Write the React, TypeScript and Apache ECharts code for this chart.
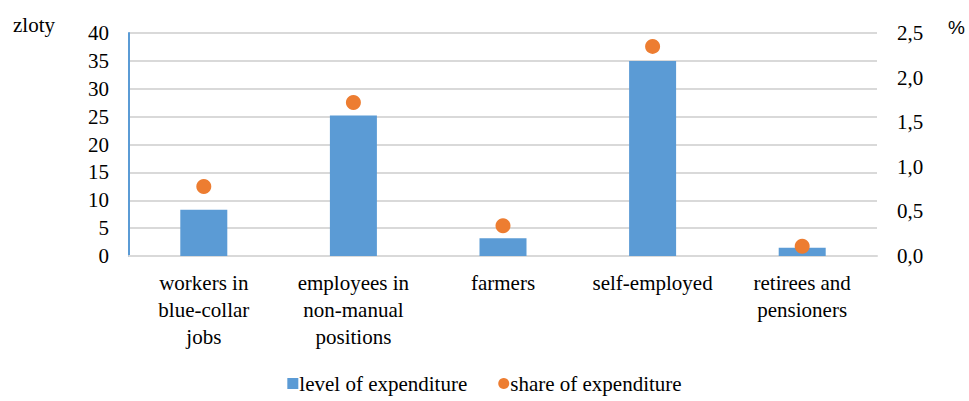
import React, { useEffect, useRef } from "react";
import * as echarts from "echarts";

const categories = [
  "workers in\nblue-collar\njobs",
  "employees in\nnon-manual\npositions",
  "farmers",
  "self-employed",
  "retirees and\npensioners",
];
const levelOfExpenditure = [8.3, 25.2, 3.2, 35.0, 1.5];
const shareOfExpenditure = [0.78, 1.72, 0.34, 2.35, 0.11];

const FONT = "Liberation Serif, DejaVu Serif, Times New Roman, serif";
const FS = 21;

export default function App() {
  const ref = useRef<HTMLDivElement>(null);
  useEffect(() => {
    if (!ref.current) return;
    const chart = echarts.init(ref.current, undefined, { renderer: "svg" });
    chart.setOption({
      animation: false,
      backgroundColor: "#ffffff",
      textStyle: { fontFamily: FONT },
      grid: { left: 129, right: 92, top: 33, bottom: 145, containLabel: false },
      legend: {
        bottom: 2,
        left: "center",
        itemWidth: 11,
        itemHeight: 11,
        itemGap: 31,
        textStyle: { fontFamily: FONT, fontSize: FS, color: "#000", padding: [0, 0, 0, -4] },
        data: [
          { name: "level of expenditure", icon: "rect" },
          { name: "share of expenditure", icon: "circle" },
        ],
      },
      xAxis: {
        type: "category",
        data: categories,
        axisLine: { show: true, lineStyle: { color: "#d9d9d9", width: 2 } },
        axisTick: { show: false },
        axisLabel: {
          fontFamily: FONT,
          fontSize: FS,
          color: "#000",
          lineHeight: 27,
          margin: 13,
          interval: 0,
          verticalAlign: "top",
        },
      },
      yAxis: [
        {
          type: "value",
          min: 0,
          max: 40,
          interval: 5,
          axisLine: { show: true, lineStyle: { color: "#5b9bd5", width: 2 } },
          axisTick: { show: false },
          splitLine: { show: true, lineStyle: { color: "#d9d9d9", width: 2 } },
          axisLabel: { fontFamily: FONT, fontSize: FS, color: "#000", margin: 20 },
        },
        {
          type: "value",
          min: 0,
          max: 2.5,
          interval: 0.5,
          axisLine: { show: false },
          axisTick: { show: false },
          splitLine: { show: false },
          axisLabel: {
            fontFamily: FONT,
            fontSize: FS,
            color: "#000",
            margin: 20,
            formatter: (v: number) => v.toFixed(1).replace(".", ","),
          },
        },
      ],
      graphic: [
        {
          type: "text",
          left: 13,
          top: 14,
          style: { text: "zloty", fontFamily: FONT, fontSize: FS, fill: "#000" },
        },
        {
          type: "text",
          left: 948,
          top: 18,
          style: { text: "%", fontFamily: "Liberation Sans, sans-serif", fontSize: 19, fill: "#000" },
        },
      ],
      series: [
        {
          name: "level of expenditure",
          type: "bar",
          data: levelOfExpenditure,
          barWidth: 47,
          itemStyle: { color: "#5b9bd5" },
          yAxisIndex: 0,
        },
        {
          name: "share of expenditure",
          type: "scatter",
          data: shareOfExpenditure,
          yAxisIndex: 1,
          symbol: "circle",
          symbolSize: 15,
          itemStyle: { color: "#ed7d31", opacity: 1 },
        },
      ],
    });
    return () => chart.dispose();
  }, []);
  return (
    <div
      ref={ref}
      style={{ position: "absolute", left: 0, top: 0, width: 969, height: 401 }}
    />
  );
}
